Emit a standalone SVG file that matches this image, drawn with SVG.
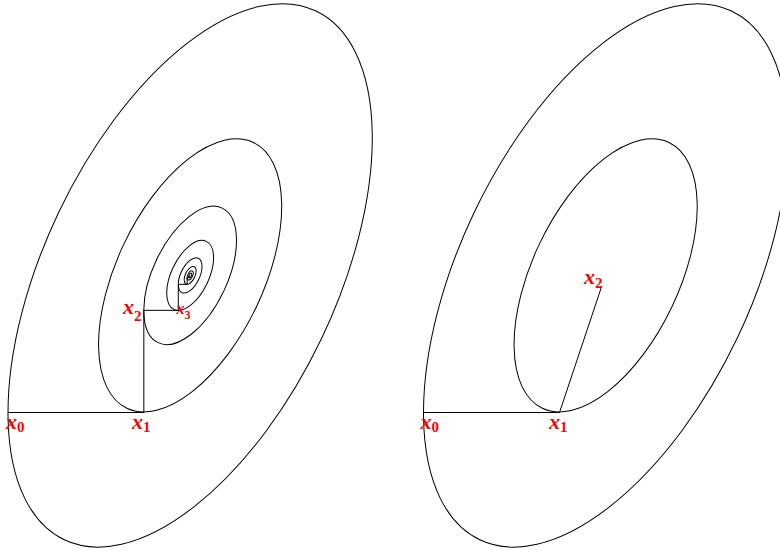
<svg xmlns="http://www.w3.org/2000/svg" width="780" height="553" viewBox="0 0 780 553">
<style>
.lv{fill:none;stroke:#000;stroke-width:1}
.path{fill:none;stroke:#000;stroke-width:1}
.lbl{font-family:"Liberation Serif","Times New Roman",serif;font-weight:bold;font-style:italic;fill:#ff0000}
.sub{font-style:normal}
</style>
<rect width="780" height="553" fill="#fff"/>
<g id="left-levels" transform="translate(190.15 275.4) rotate(-64.54)">
<ellipse class="lv" rx="292.8" ry="145.8"/>
<ellipse class="lv" rx="147.2" ry="73.32"/>
<ellipse class="lv" rx="74.50" ry="37.10"/>
<ellipse class="lv" rx="37.67" ry="18.76"/>
<ellipse class="lv" rx="19.05" ry="9.486"/>
<ellipse class="lv" rx="9.63" ry="4.797"/>
<ellipse class="lv" rx="4.87" ry="2.425"/>
<ellipse class="lv" rx="2.463" ry="1.226"/>
</g>
<g id="right-levels" transform="translate(605.65 275.4) rotate(-64.54)">
<ellipse class="lv" rx="292.8" ry="145.8"/>
<ellipse class="lv" rx="147.2" ry="73.32"/>
</g>
<g id="connectors">
<polyline class="path" points="8,412.5 143.84,412.5 143.84,310.33 178.31,310.33 178.31,284.33 187.12,284.33 187.12,277.69 189.37,277.69 189.37,275.99 189.95,275.99 189.95,275.55"/>
<polyline class="path" points="423.5,412.5 559.5,412.5 601.8,286"/>
</g>
<g id="left-x0"><text class="lbl" x="6" y="429" font-size="22">x<tspan class="sub" font-size="15" dy="3">0</tspan></text></g>
<g id="left-x1"><text class="lbl" x="132" y="429" font-size="22">x<tspan class="sub" font-size="15" dy="3">1</tspan></text></g>
<g id="left-x2"><text class="lbl" x="123" y="314" font-size="22">x<tspan class="sub" font-size="15" dy="7">2</tspan></text></g>
<g id="left-x3"><text class="lbl" x="176.5" y="314" font-size="16">x<tspan class="sub" font-size="12" dy="5">3</tspan></text></g>
<g id="right-x0"><text class="lbl" x="420.5" y="428.5" font-size="22">x<tspan class="sub" font-size="15" dy="3">0</tspan></text></g>
<g id="right-x1"><text class="lbl" x="549" y="428.5" font-size="22">x<tspan class="sub" font-size="15" dy="3">1</tspan></text></g>
<g id="right-x2"><text class="lbl" x="584" y="284" font-size="22">x<tspan class="sub" font-size="15" dy="4">2</tspan></text></g>
</svg>
